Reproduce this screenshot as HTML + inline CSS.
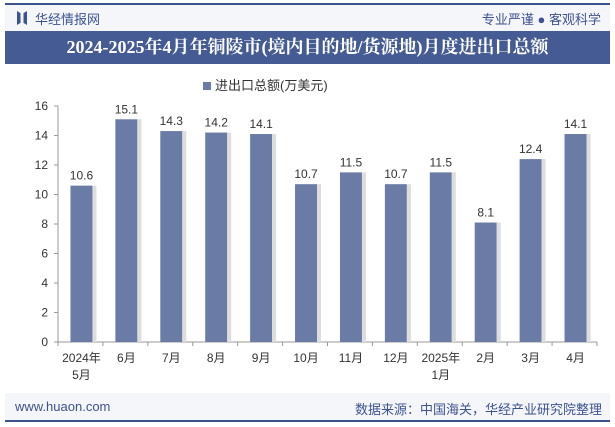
<!DOCTYPE html>
<html><head><meta charset="utf-8"><style>
body{margin:0;width:615px;height:427px;background:#fff;font-family:"Liberation Sans","Noto Sans CJK SC",sans-serif;position:relative;overflow:hidden}
.abs{position:absolute}
</style></head><body>
<div class="abs" style="left:5px;top:3px;width:605px;height:2px;background:#3d5391"></div>
<div class="abs" style="left:5px;top:5px;width:605px;height:26px;background:#f4f6fa"></div>
<div class="abs" style="left:17px;top:11px;width:10px;height:14px;background:#3d5391;clip-path:polygon(0 0,35% 15%,35% 85%,0 100%,0 0,100% 0,65% 15%,65% 85%,100% 100%,100% 0)"></div>
<div class="abs" style="left:35px;top:9px;font-size:13px;color:#3d5391">华经情报网</div>
<div class="abs" style="right:14px;top:9px;font-size:13px;color:#3d5391">专业严谨 ● 客观科学</div>
<div class="abs" style="left:5px;top:31px;width:605px;height:33px;background:#455b94;color:#fff;font-family:'Liberation Serif','Noto Serif CJK SC',serif;font-weight:bold;font-size:18px;line-height:33px;text-align:center">2024-2025年4月年铜陵市(境内目的地/货源地)月度进出口总额</div>
<div class="abs" style="left:203px;top:75px;font-size:13px;color:#333"><span style="display:inline-block;width:8px;height:8px;background:#6a7ca6;margin-right:4px"></span>进出口总额(万美元)</div>
<svg class="abs" style="left:0;top:0" width="615" height="427" id="chart"></svg>
<div class="abs" style="left:5px;top:393px;width:605px;height:28px;background:#f4f6fa"></div>
<div class="abs" style="left:5px;top:420px;width:605px;height:2px;background:#3d5391"></div>
<div class="abs" style="left:15px;top:399px;font-size:13px;color:#3d5391">www.huaon.com</div>
<div class="abs" style="right:13px;top:399px;font-size:13px;color:#3d5391">数据来源：中国海关，华经产业研究院整理</div>
<script>
const categories=["2024年\n5月","6月","7月","8月","9月","10月","11月","12月","2025年\n1月","2月","3月","4月"];
const values=[10.6,15.1,14.3,14.2,14.1,10.7,11.5,10.7,11.5,8.1,12.4,14.1];
const yTicks=[0,2,4,6,8,10,12,14,16];
const svg=document.getElementById('chart');const NS='http://www.w3.org/2000/svg';
const x0=58,x1=597,yB=342,yT=106,yMax=16;
const y=v=>yB-(v/yMax)*(yB-yT);
const bw=(x1-x0)/categories.length;
const xc=i=>x0+bw*(i+0.5)+1;
function mk(t,a,txt){const e=document.createElementNS(NS,t);for(const k in a)e.setAttribute(k,a[k]);if(txt!==undefined)e.textContent=txt;svg.appendChild(e);return e;}
const ya=mk('line',{x1:x0,y1:yT,x2:x0,y2:yB,stroke:'#999'});


yTicks.forEach(t=>{
 const tk=mk('line',{x1:x0-4,y1:y(t),x2:x0,y2:y(t),stroke:'#999'});
 
 
 const l=mk('text',{x:x0-10,y:y(t)+4,'text-anchor':'end','font-size':12,fill:'#333'},t);
 
 
});
const xa=mk('line',{x1:x0,y1:yB,x2:x1,y2:yB,stroke:'#999'});


categories.forEach((c,i)=>{
 const tk=mk('line',{x1:x0+bw*i,y1:yB,x2:x0+bw*i,y2:yB+4,stroke:'#999'});
 
 
 const v=values[i];
 const b=mk('rect',{x:xc(i)-11,y:y(v),width:22,height:yB-y(v),fill:'#6a7ca6'});
 
 
 const s=mk('rect',{x:xc(i)+11,y:y(v),width:4,height:yB-y(v),fill:'#ddd'});
 
 
 const vl=mk('text',{x:xc(i),y:y(v)-6,'text-anchor':'middle','font-size':12,fill:'#333'},v.toFixed(1));
 
 
 c.split('\n').forEach((ln,j)=>{
  const t=mk('text',{x:xc(i),y:yB+20+j*17,'text-anchor':'middle','font-size':12,fill:'#333'},ln);
  
  
 });
});
const xe=mk('line',{x1:x1,y1:yB,x2:x1,y2:yB+4,stroke:'#999'});


</script>
</body></html>
